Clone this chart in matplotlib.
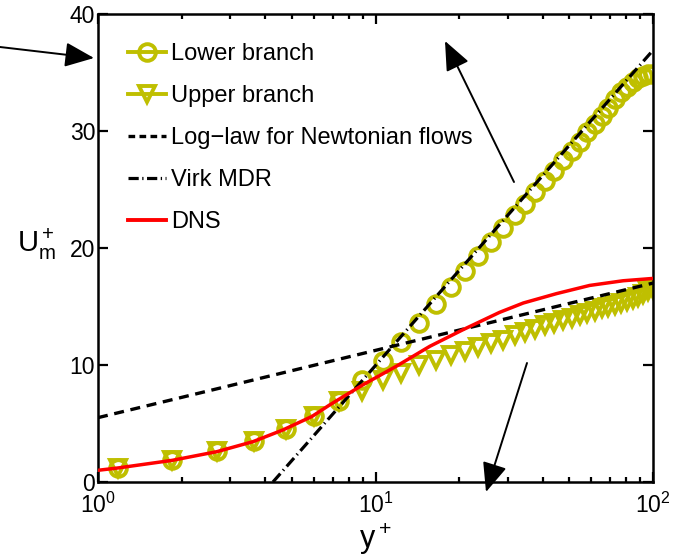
import numpy as np
import matplotlib
matplotlib.use("Agg")
import matplotlib.pyplot as plt
from matplotlib.patches import FancyArrowPatch
from matplotlib.lines import Line2D
from matplotlib.ticker import FixedLocator, FixedFormatter, LogLocator, NullFormatter

plt.rcParams['font.family'] = ['Liberation Sans', 'DejaVu Sans']
plt.rcParams['mathtext.fontset'] = 'custom'
plt.rcParams['mathtext.rm'] = 'Liberation Sans'
plt.rcParams['mathtext.it'] = 'Liberation Sans'
plt.rcParams['mathtext.bf'] = 'Liberation Sans:bold'

# y+ positions of the simulation points (both branches)
y_plus = [1.18, 1.85, 2.69, 3.65, 4.75, 6.0, 7.4, 8.95, 10.6, 12.4, 14.4, 16.5,
          18.7, 21.0, 23.5, 26.1, 28.8, 31.7, 34.6, 37.7, 40.9, 44.1, 47.5, 50.9,
          54.4, 58.0, 61.6, 65.3, 69.0, 72.8, 76.6, 80.5, 84.4, 88.3, 92.2, 96.1, 100.0]

u_lower = [1.2, 1.85, 2.65, 3.5, 4.5, 5.6, 6.9, 8.7, 10.3, 12.0, 13.6, 15.2,
           16.7, 18.0, 19.3, 20.5, 21.7, 22.8, 23.8, 24.8, 25.7, 26.6, 27.5, 28.3,
           29.1, 29.9, 30.6, 31.3, 32.0, 32.7, 33.3, 33.8, 34.2, 34.5, 34.7, 34.9, 34.9]

u_upper = [1.2, 1.85, 2.65, 3.5, 4.5, 5.6, 6.9, 7.8, 8.7, 9.35, 10.0, 10.4,
           10.85, 11.2, 11.5, 11.85, 12.15, 12.55, 12.85, 13.1, 13.4, 13.6, 13.85, 14.05,
           14.3, 14.45, 14.65, 14.85, 15.0, 15.15, 15.3, 15.5, 15.65, 15.85, 16.05, 16.3, 16.5]

# DNS profile
y_dns = [1.0, 1.18, 1.85, 2.69, 3.62, 4.64, 5.9, 6.85, 7.3, 9.0, 11.9, 15.7,
         20.6, 25.8, 28.0, 34.1, 44.9, 59.1, 78.0, 100.0]
u_dns = [1.0, 1.2, 1.85, 2.6, 3.45, 4.45, 5.6, 6.6, 7.0, 8.3, 9.9, 11.6,
         13.0, 14.1, 14.5, 15.3, 16.1, 16.8, 17.2, 17.4]

# reference laws (straight lines in semi-log)
y_log = [1.0, 100.0]
u_log = [5.5, 17.0]
y_mdr = [4.27, 100.0]
u_mdr = [0.0, 36.9]

olive = '#BFBF00'

fig = plt.figure(figsize=(6.78, 5.56), dpi=100)
ax = fig.add_axes([98/678, 1-482/556, 555/678, 468/556])

ax.semilogx(y_plus, u_lower, 'o', color=olive, mfc='none', ms=12, mew=2.8, zorder=2)
ax.semilogx(y_plus, u_upper, 'v', color=olive, mfc='none', ms=12, mew=2.8, zorder=2)
ax.semilogx(y_log, u_log, color='k', lw=2.4, dashes=(3, 2), zorder=3)
ax.semilogx(y_mdr, u_mdr, color='k', lw=2.3, dashes=(3.5, 1.3, 0.4, 1.3), zorder=3)
ax.semilogx(y_dns, u_dns, '-', color='red', lw=2.5, zorder=4)

ax.set_xlim(1, 100)
ax.set_ylim(0, 40)

ax.xaxis.set_major_locator(FixedLocator([1, 10, 100]))
ax.xaxis.set_major_formatter(FixedFormatter([r'$\mathrm{10^0}$', r'$\mathrm{10^1}$', r'$\mathrm{10^2}$']))
ax.xaxis.set_minor_locator(LogLocator(base=10, subs=np.arange(2, 10)))
ax.xaxis.set_minor_formatter(NullFormatter())
ax.set_yticks([0, 10, 20, 30, 40])

ax.tick_params(which='both', direction='in', top=True, right=True, labelsize=16.5, width=1.6)
ax.tick_params(which='major', length=7)
ax.tick_params(which='minor', length=3.5)
ax.tick_params(axis='y', pad=2)
ax.tick_params(axis='x', pad=8)
for s in ax.spines.values():
    s.set_linewidth(1.8)

ax.set_xlabel(r'$\mathrm{y^+}$', fontsize=22, labelpad=2)
ax.set_ylabel(r'$\mathrm{U_m^+}$', fontsize=21, rotation=0)
ax.yaxis.set_label_coords(-0.11, 0.47)

# legend: marker entries drawn with a line through the marker
handles = [
    Line2D([], [], color=olive, marker='o', mfc='none', ms=12, mew=2.8, lw=2.8),
    Line2D([], [], color=olive, marker='v', mfc='none', ms=12, mew=2.8, lw=2.8),
    Line2D([], [], color='k', lw=2.4, dashes=(2, 1.3)),
    Line2D([], [], color='k', lw=2.3, dashes=(3.2, 1.1, 0.4, 1.1)),
    Line2D([], [], color='red', lw=2.8),
]
labels = ['Lower branch', 'Upper branch', 'Log\u2212law for Newtonian flows', 'Virk MDR', 'DNS']
ax.legend(handles, labels, loc='upper left', bbox_to_anchor=(0.054, 0.937),
          frameon=False, fontsize=17, handlelength=1.6, handletextpad=0.22,
          labelspacing=0.84, borderpad=0, borderaxespad=0)

def px(x, y):
    return (x/678, 1-y/556)

arrows = [((0, 47), (94, 58)), ((514, 182), (445, 41)), ((527, 363), (486, 492))]
for tail, tip in arrows:
    arr = FancyArrowPatch(px(*tail), px(*tip), transform=fig.transFigure,
                          arrowstyle='-|>,head_length=0.9,head_width=0.38',
                          mutation_scale=20, color='k', lw=1.4, shrinkA=0, shrinkB=0)
    fig.add_artist(arr)

fig.savefig('out.png', dpi=100)
